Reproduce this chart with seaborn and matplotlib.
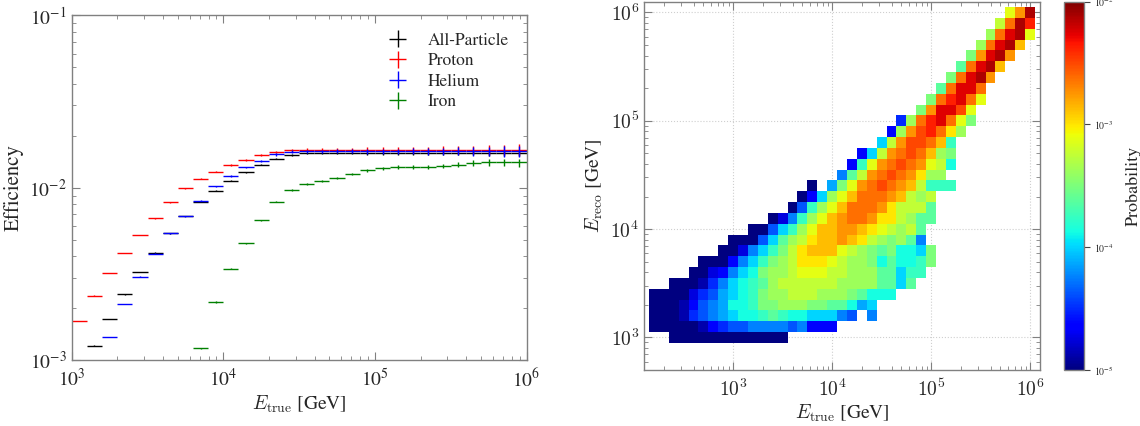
import numpy as np
import matplotlib
matplotlib.use("Agg")
import matplotlib.pyplot as plt
import seaborn as sns
from matplotlib.colors import LogNorm

# ---- left panel: efficiency per 0.1-decade bin of log10(E_true / GeV)
bin_lo_log = np.round(np.arange(3.0, 6.0, 0.1), 1)

eff_proton = [1.68e-3, 2.36e-3, 3.19e-3, 4.17e-3, 5.32e-3, 6.65e-3, 8.24e-3, 9.89e-3,
              1.13e-2, 1.24e-2, 1.35e-2, 1.45e-2, 1.54e-2, 1.61e-2, 1.65e-2,
              1.66e-2, 1.66e-2, 1.66e-2, 1.66e-2, 1.66e-2, 1.66e-2, 1.66e-2, 1.66e-2,
              1.66e-2, 1.66e-2, 1.66e-2, 1.66e-2, 1.66e-2, 1.66e-2, 1.66e-2]
err_proton = [0.003, 0.003, 0.004, 0.004, 0.005, 0.005, 0.006, 0.007, 0.008, 0.009,
              0.010, 0.012, 0.014, 0.016, 0.019, 0.022, 0.024, 0.026, 0.028, 0.031,
              0.034, 0.037, 0.040, 0.044, 0.048, 0.053, 0.058, 0.064, 0.070, 0.076]

eff_all = [1.21e-3, 1.73e-3, 2.40e-3, 3.23e-3, 4.20e-3, 5.44e-3, 6.86e-3, 8.27e-3,
           9.59e-3, 1.10e-2, 1.23e-2, 1.36e-2, 1.47e-2, 1.55e-2, 1.58e-2,
           1.58e-2, 1.58e-2, 1.58e-2, 1.58e-2, 1.58e-2, 1.58e-2, 1.58e-2,
           1.58e-2, 1.58e-2, 1.58e-2, 1.58e-2, 1.58e-2, 1.58e-2, 1.58e-2]
err_all = [0.003, 0.003, 0.003, 0.003, 0.004, 0.004, 0.004, 0.005, 0.005, 0.006,
           0.007, 0.008, 0.009, 0.010, 0.011, 0.012, 0.013, 0.014, 0.015, 0.016,
           0.018, 0.019, 0.021, 0.023, 0.025, 0.027, 0.029, 0.031, 0.034]

eff_helium = [1.36e-3, 2.11e-3, 3.05e-3, 4.13e-3, 5.42e-3, 6.83e-3, 8.42e-3, 1.02e-2,
              1.17e-2, 1.31e-2, 1.43e-2, 1.56e-2, 1.62e-2, 1.625e-2,
              1.625e-2, 1.625e-2, 1.625e-2, 1.625e-2, 1.625e-2, 1.625e-2, 1.625e-2,
              1.625e-2, 1.625e-2, 1.625e-2, 1.625e-2, 1.625e-2, 1.625e-2, 1.625e-2]
err_helium = [0.004, 0.004, 0.005, 0.005, 0.006, 0.006, 0.007, 0.008, 0.009, 0.011,
              0.013, 0.015, 0.018, 0.021, 0.024, 0.026, 0.028, 0.031, 0.034, 0.037,
              0.040, 0.044, 0.048, 0.053, 0.058, 0.064, 0.070, 0.077]

eff_iron = [1.17e-3, 2.17e-3, 3.38e-3, 4.76e-3, 6.48e-3, 8.27e-3, 9.68e-3, 1.05e-2,
            1.09e-2, 1.14e-2, 1.20e-2, 1.26e-2, 1.30e-2, 1.32e-2, 1.32e-2, 1.32e-2,
            1.34e-2, 1.36e-2, 1.39e-2, 1.40e-2, 1.40e-2, 1.40e-2]
err_iron = [0.008, 0.007, 0.006, 0.006, 0.006, 0.007, 0.008, 0.010, 0.012, 0.014,
            0.016, 0.018, 0.020, 0.022, 0.024, 0.027, 0.030, 0.034, 0.038, 0.043,
            0.048, 0.054]

series = [
    ("All-Particle", eff_all, err_all, "black"),
    ("Proton", eff_proton, err_proton, "red"),
    ("Helium", eff_helium, err_helium, "blue"),
    ("Iron", eff_iron, err_iron, "green"),
]

# ---- right panel: response matrix, 0.1-decade bins
# columns: log10(E_true) centres 2.2 .. 6.0, rows: log10(E_reco) centres 3.0 .. 6.0
true_centres = np.round(np.arange(2.2, 6.05, 0.1), 1)
reco_centres = np.round(np.arange(3.0, 6.05, 0.1), 1)
# colour level per cell, A = 1e-5 ... Y = 1e-2 (log steps), '.' = empty
levels = "ABCDEFGHIJKLMNOPQRSTUVWXY"
response_rows = [  # (first column, codes), bottom row first
    (2, "AAAAAAAAAAAA"),
    (0, "AAAAABDEFFGGGGFGDDD"),
    (0, "AAABEFGHIJJKLKJJIIIGF.G"),
    (0, "AAABDFGHJJKMMNNNMMLLJHI"),
    (0, "AAAACEFHIJKMNNOOONNNMLJJJ"),
    (2, "AAABEGIJKLNOOOOOONNNNLLIL"),
    (4, "AACDGIJMNNOPPPOONNNLLIKK"),
    (5, "AAADGIKMNOQQQPONNMJLJJKM"),
    (7, "AACGIKMOQRRRPONMLMJJIM"),
    (8, "AAAFILNOQRRSRQONMNLG"),
    (10, "AAFIKNPRRSSRQPONOL"),
    (12, "ACGKNPRSTTSQQONLL"),
    (14, "AFKNPRTTTSQOOOL"),
    (15, "ADINPRTTTSRONO"),
    (16, "A.HMPSTUTSROKKK"),
    (19, "GLOSTUTSQNN"),
    (20, "DKPSTUTSPOJ"),
    (21, "DIOSTUTRNM"),
    (23, "IOSUUTRK"),
    (24, "DNSUVTQN"),
    (25, "ENTVWTPM"),
    (27, "MSWWUP"),
    (28, "MTVWTP"),
    (29, "LTWWT"),
    (30, "MTWXS"),
    (31, "LTWXR"),
    (32, "MSWXS"),
    (33, "NTWXR"),
    (34, "NTWXP"),
    (35, "OTXV"),
    (36, "PSX"),
]


def build_matrix():
    prob = np.full((len(reco_centres), len(true_centres)), np.nan)
    for j, (start, codes) in enumerate(response_rows):
        for k, c in enumerate(codes):
            if c != ".":
                prob[j, start + k] = 10 ** (-5 + 3 * levels.index(c) / 24)
    return prob


def main():
    sns.set_style("ticks")
    plt.rcParams["font.family"] = ["STIXGeneral", "DejaVu Serif"]
    plt.rcParams["mathtext.fontset"] = "cm"
    spine_col = "#808080"

    fig = plt.figure(figsize=(11.4, 4.26), dpi=100)
    ax1 = fig.add_axes([0.0629, 0.155, 0.399, 0.809])
    ax2 = fig.add_axes([0.5649, 0.1315, 0.3474, 0.8646])
    cax = fig.add_axes([0.9333, 0.1315, 0.0175, 0.8646])

    # efficiency panel
    for name, vals, errs, color in series:
        n = len(vals)
        lo = bin_lo_log[-n:]
        centres = 10 ** (lo + 0.05)
        xerr = [centres - 10 ** lo, 10 ** (lo + 0.1) - centres]
        vals = np.array(vals)
        ax1.errorbar(centres, vals, xerr=xerr, yerr=vals * np.array(errs),
                     fmt="none", ecolor=color, elinewidth=1.0, capsize=0, label=name)
    ax1.set_xscale("log")
    ax1.set_yscale("log")
    ax1.set_xlim(1e3, 1e6)
    ax1.set_ylim(1e-3, 1e-1)
    ax1.set_xlabel(r"$E_{\rm true}$ [GeV]", fontsize=14, labelpad=2)
    ax1.set_ylabel("Efficiency", fontsize=15, labelpad=4)
    ax1.legend(loc="upper right", frameon=False, fontsize=12.5, handlelength=0.9,
               handletextpad=1.3, labelspacing=0.25, borderaxespad=0.6)

    # response matrix panel
    prob = build_matrix()
    sns.heatmap(prob, ax=ax2, cbar_ax=cax, cmap="jet", norm=LogNorm(1e-5, 1e-2),
                mask=np.isnan(prob), xticklabels=False, yticklabels=False)

    def u(logv):
        return (logv - (true_centres[0] - 0.05)) / 0.1

    def v(logv):
        return (logv - (reco_centres[0] - 0.05)) / 0.1

    ax2.set_xlim(u(2.1), u(6.1))
    ax2.set_ylim(v(2.7), v(6.1))
    dec = [3, 4, 5, 6]
    ax2.set_xticks([u(d) for d in dec])
    ax2.set_xticklabels([rf"$10^{{{d}}}$" for d in dec])
    ax2.set_yticks([v(d) for d in dec])
    ax2.set_yticklabels([rf"$10^{{{d}}}$" for d in dec], rotation=0)
    minor = [d + np.log10(k) for d in range(2, 7) for k in range(2, 10)]
    ax2.set_xticks([u(m) for m in minor if 2.1 < m < 6.1], minor=True)
    ax2.set_yticks([v(m) for m in minor if 2.7 < m < 6.1], minor=True)
    ax2.grid(True, which="major", linestyle=":", color="#cfcfcf", linewidth=0.8)
    ax2.set_axisbelow(True)
    ax2.set_xlabel(r"$E_{\rm true}$ [GeV]", fontsize=14, labelpad=2)
    ax2.set_ylabel(r"$E_{\rm reco}$ [GeV]", fontsize=14, labelpad=4)

    for ax in (ax1, ax2):
        for s in ax.spines.values():
            s.set_visible(True)
            s.set_color(spine_col)
            s.set_linewidth(1.0)
        ax.tick_params(which="both", direction="in", top=True, right=True,
                       color=spine_col, labelsize=14)
        ax.tick_params(which="major", length=6, width=0.8)
        ax.tick_params(which="minor", length=3, width=0.6)
        ax.tick_params(axis="x", which="major", pad=6)

    cbar = ax2.collections[0].colorbar
    cbar.outline.set_visible(True)
    cbar.outline.set_linewidth(1.0)
    cbar.outline.set_edgecolor(spine_col)
    cbar.ax.minorticks_off()
    cbar.ax.tick_params(labelsize=7, length=4, color="#444444", direction="out")
    cbar.set_label("Probability", fontsize=13, labelpad=8)

    fig.savefig("out.png", dpi=100)
    plt.close(fig)


if __name__ == "__main__":
    main()
